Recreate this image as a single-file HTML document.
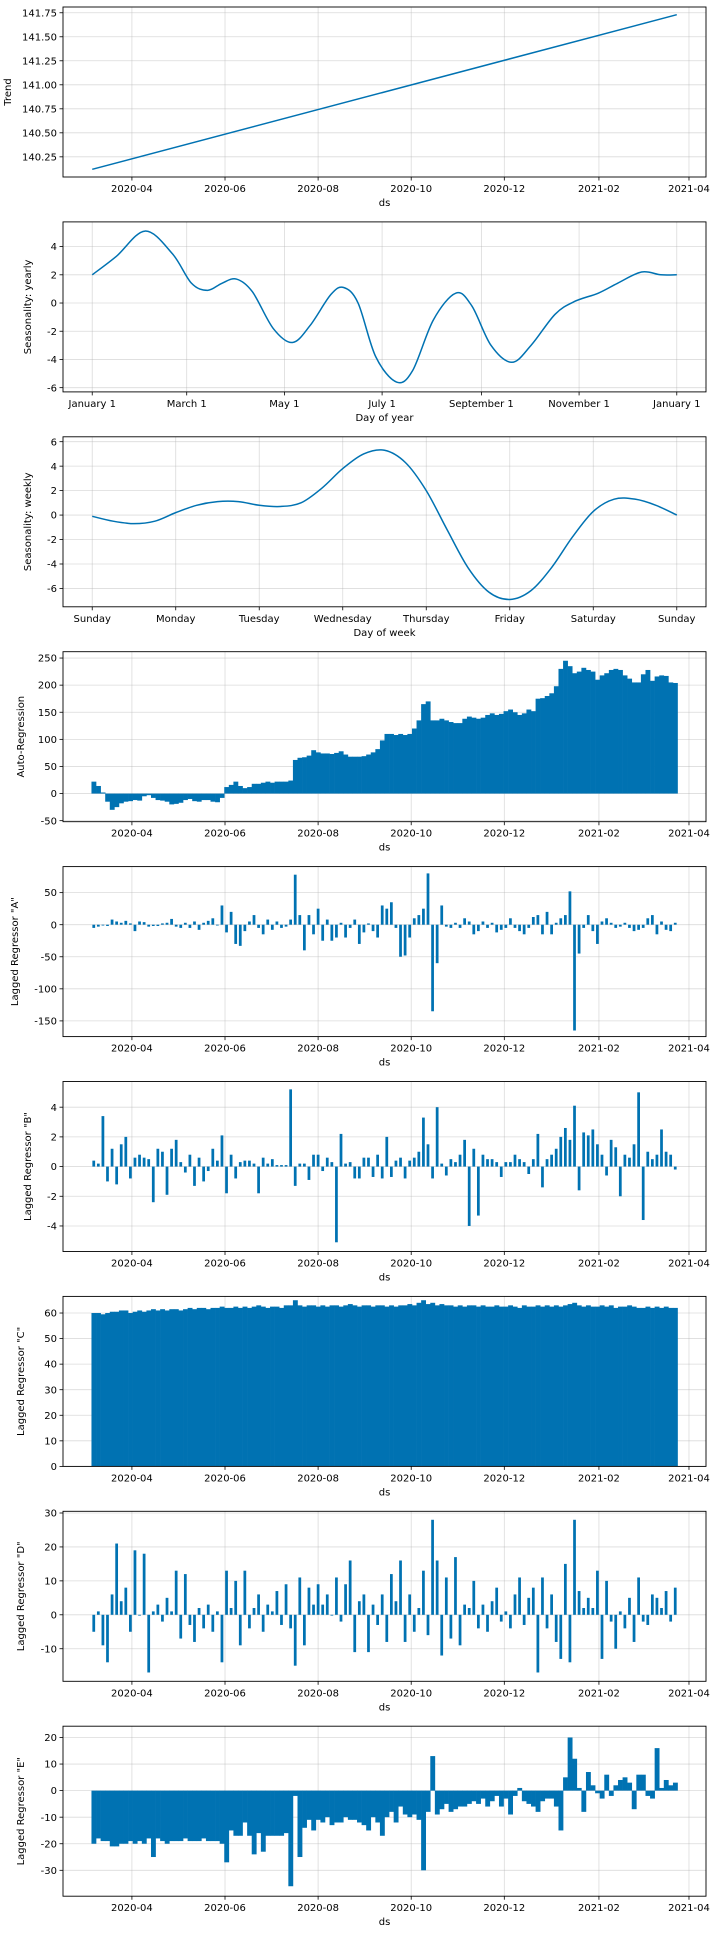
<!DOCTYPE html>
<html><head><meta charset="utf-8">
<style>
html,body{margin:0;padding:0;background:#fff;}
svg{display:block;font-family:"DejaVu Sans","Liberation Sans",sans-serif;}
</style></head>
<body>
<svg id="fig" width="716" height="1936" viewBox="0 0 716 1936" xmlns="http://www.w3.org/2000/svg"></svg>
<script>
// ---------- DATA ----------
const trendDays = [0, 383];
const trendValues = [140.12, 141.73];

const yearlyDays = [0,15,33,50,62,72,81,90,100,113,125,136,149,157,166,177,190,200,213,227,237,249,262,274,289,301,316,328,343,355,365];
const yearlyValues = [2.0,3.3,5.1,3.5,1.4,0.9,1.4,1.7,0.8,-1.8,-2.8,-1.6,0.6,1.1,0,-3.8,-5.6,-4.8,-1.2,0.7,-0.2,-3.0,-4.2,-3.0,-0.8,0.1,0.7,1.4,2.2,2.0,2.0];

const weeklyDays = [0,0.25,0.5,0.75,1,1.25,1.5,1.75,2,2.25,2.5,2.75,3,3.25,3.5,3.75,4,4.25,4.5,4.75,5,5.25,5.5,5.75,6,6.25,6.5,6.75,7];
const weeklyValues = [-0.1,-0.5,-0.7,-0.5,0.2,0.8,1.1,1.1,0.8,0.7,1.0,2.2,3.8,5.0,5.3,4.3,2.0,-1.2,-4.3,-6.3,-6.9,-6.2,-4.3,-1.8,0.3,1.3,1.3,0.8,0.0];

const arValues = [22,14,2,-15,-30,-25,-18,-15,-14,-12,
-13,-5,-3,-8,-12,-13,-15,-20,-19,-17,
-12,-10,-14,-15,-12,-12,-15,-16,-8,12,
16,22,14,10,12,18,18,20,22,20,
22,22,22,24,62,66,67,70,80,76,
74,74,73,75,78,72,68,68,68,69,
72,76,82,98,110,110,108,110,108,110,
120,135,165,170,135,135,138,135,132,130,
130,138,142,140,138,140,145,148,145,147,
152,155,150,145,148,155,152,175,176,180,
185,198,230,245,235,222,225,232,228,225,
210,218,222,228,230,228,218,212,205,205,
220,228,208,216,218,217,205,204];

const aValues = [-5,-3,0,-2,8,5,3,6,2,-10,
5,4,-3,-2,-2,2,3,9,-3,-5,
3,-5,5,-8,3,6,10,0,30,-12,
20,-30,-33,-10,5,15,-5,-15,8,-8,
5,-5,-3,8,78,15,-40,15,-15,25,
-25,8,-25,-20,3,-20,-5,8,-30,-12,
2,-10,-20,30,25,35,-5,-50,-48,-20,
10,15,25,80,-135,-60,30,-3,-5,3,
-5,10,5,-15,-10,5,-5,3,-12,-8,
-5,10,-5,-10,-15,-5,12,15,-15,20,
-15,3,10,15,52,-165,-45,-5,15,-10,
-30,5,10,3,-5,-3,3,-5,-10,-8,
-5,10,15,-15,5,-8,-10,3];

const bValues = [0.4,0.2,3.4,-1.0,1.2,-1.2,1.5,2.0,-0.8,0.6,
0.8,0.6,0.5,-2.4,1.2,1.0,-1.9,1.2,1.8,0.3,
-0.4,0.8,-1.3,0.6,-1.0,-0.3,1.2,0.4,2.1,-1.8,
0.8,-0.8,0.3,0.4,0.4,0.2,-1.8,0.6,0.2,0.5,
0.1,0.1,0.1,5.2,-1.3,0.2,0.2,-0.9,0.8,0.8,
-0.3,0.6,0.3,-5.1,2.2,0.2,0.3,-0.8,-0.8,0.6,
0.6,-0.7,0.8,-0.8,2.0,-0.7,0.4,0.6,-0.8,0.4,
0.6,1.0,3.3,1.5,-0.8,4.0,0.2,-0.6,0.5,0.3,
0.8,1.8,-4.0,1.2,-3.3,0.8,0.5,0.5,0.3,-0.7,
0.3,0.3,0.8,0.5,0.3,-0.5,0.5,2.2,-1.4,0.5,
0.8,1.2,2.0,2.6,1.8,4.1,-1.6,2.3,2.1,2.5,
1.5,0.8,-0.6,1.8,1.3,-2.0,0.8,0.6,1.5,5.0,
-3.6,1.0,0.5,0.8,2.5,1.0,0.8,-0.2];

const cValues = [60,60,59.5,60,60.5,60.5,61,61,60,60.5,
61,60.5,61,61.5,61,61.5,61,61.5,61.5,61,
61.5,62,61.5,62,62,61.5,62,62,62.5,62,
62,62.5,62,62.5,62,62.5,63,62.5,62,62.5,
62.5,62,63,63,65,63,62.5,63,63,62.5,
63,62.5,63,63,62.5,63,63.5,63,62.5,63,
63,62.5,63,63,62.5,63,62.5,63,63,63.5,
63,64,65,63.5,64,63,63.5,63,63,62.5,
63,62.5,63,63,62.5,63,62.5,62.5,63,62.5,
62.5,63,62.5,62,63,62.5,62.5,63,62.5,63,
62.5,63,62.5,63,63.5,64,63,62.5,63,62.5,
62.5,63,62.5,63,62,62.5,62.5,63,62.5,62,
62,62.5,62,62.5,62,62.5,62,62];

const dValues = [-5,1,-9,-14,6,21,4,8,-5,19,
0,18,-17,1,3,-2,5,1,13,-7,
12,-3,-8,2,-4,3,-5,1,-14,13,
2,10,-9,13,-4,2,6,-5,3,1,
7,-3,9,-4,-15,11,-9,8,3,9,
3,6,0,11,-2,9,16,-11,4,6,
-11,3,-3,6,-8,12,4,16,-8,6,
-5,2,13,-6,28,16,-12,11,-7,17,
-9,3,2,10,-4,3,-5,4,8,-2,
1,-4,6,11,-3,5,8,-17,11,-4,
6,-8,-13,15,-14,28,7,2,5,2,
13,-13,10,-2,-10,1,-4,5,-8,11,
-2,-3,6,5,2,7,-2,8];

const eValues = [-20,-18,-19,-19,-21,-21,-20,-20,-19,-20,
-19,-20,-18,-25,-18,-19,-20,-19,-19,-19,
-18,-19,-19,-19,-18,-19,-19,-19,-20,-27,
-15,-17,-17,-12,-17,-24,-16,-23,-17,-17,
-17,-17,-16,-36,-2,-25,-14,-11,-15,-11,
-12,-10,-13,-12,-12,-10,-11,-11,-12,-13,
-15,-10,-12,-17,-10,-8,-12,-6,-9,-10,
-9,-11,-30,-8,13,-9,-7,-5,-8,-7,
-6,-6,-5,-4,-5,-3,-6,-4,-2,-6,
-3,-9,-2,1,-4,-5,-6,-8,-4,-3,
-3,-6,-15,5,20,12,1,-8,7,2,
-1,-3,6,-2,2,4,5,3,-7,6,
6,-2,-3,16,1,4,2,3];

const dateTickDays = [26,87,148,209,270,332,391];
const dateTickLabels = ["2020-04","2020-06","2020-08","2020-10","2020-12","2021-02","2021-04"];
const yearTickDays = [0,59,120,181,243,304,365];
const yearTickLabels = ["January 1","March 1","May 1","July 1","September 1","November 1","January 1"];
const weekTickDays = [0,1,2,3,4,5,6,7];
const weekTickLabels = ["Sunday","Monday","Tuesday","Wednesday","Thursday","Friday","Saturday","Sunday"];

// ---------- DRAWING ----------
const NS = "http://www.w3.org/2000/svg";
const svg = document.getElementById("fig");
const L = 63, W = 643, H = 170, PITCH = 214.9, TOP0 = 7;
const BLUE = "#0072B2";
const TOTAL_DAYS = 384;

function mk(tag, attrs, parent) {
  const e = document.createElementNS(NS, tag);
  for (const k in attrs) e.setAttribute(k, attrs[k]);
  (parent || svg).appendChild(e);
  return e;
}
function fmt(v, dec) { return dec ? v.toFixed(dec) : String(v); }

function panel(idx, name, xlim, ylim, yticks, ydec, xticks, xlabels, xtitle, ytitle, ylabelX) {
  const top = TOP0 + idx * PITCH;
  const g = mk("g", {});
  
  
  const sx = d => L + (d - xlim[0]) / (xlim[1] - xlim[0]) * W;
  const sy = v => top + H - (v - ylim[0]) / (ylim[1] - ylim[0]) * H;
  const grid = mk("g", {stroke: "#b0b0b0", "stroke-opacity": "0.45", "stroke-width": "0.8"}, g);
  
  
  xticks.forEach((d, i) => {
    const x = sx(d);
    mk("line", {x1: x, x2: x, y1: top, y2: top + H}, grid);
    mk("line", {x1: x, x2: x, y1: top + H, y2: top + H + 3.5, stroke: "#000", "stroke-width": "0.8"}, g);
    const lb = mk("text", {x: x, y: top + H + 15, "text-anchor": "middle", "font-size": "10", fill: "#000"}, g);
    lb.textContent = xlabels[i];
    
    
  });
  yticks.forEach(v => {
    const y = sy(v);
    mk("line", {x1: L, x2: L + W, y1: y, y2: y}, grid);
    mk("line", {x1: L - 3.5, x2: L, y1: y, y2: y, stroke: "#000", "stroke-width": "0.8"}, g);
    const lb = mk("text", {x: L - 6, y: y + 3.6, "text-anchor": "end", "font-size": "10", fill: "#000"}, g);
    lb.textContent = fmt(v, ydec);
    
    
  });
  const xt = mk("text", {x: L + W / 2, y: top + H + 29, "text-anchor": "middle", "font-size": "10", fill: "#000"}, g);
  xt.textContent = xtitle;
  
  
  const cy = top + H / 2;
  const yt = mk("text", {x: ylabelX, y: cy, "text-anchor": "middle", "font-size": "10", fill: "#000", transform: "rotate(-90 " + ylabelX + " " + cy + ")"}, g);
  yt.textContent = ytitle;
  
  
  const plot = mk("g", {}, g);
  
  
  const frame = mk("rect", {x: L, y: top, width: W, height: H, fill: "none", stroke: "#000", "stroke-width": "0.9"}, g);
  
  
  return {sx, sy, plot};
}

function smoothPath(pts) {
  let d = "M" + pts[0][0] + "," + pts[0][1];
  for (let i = 0; i < pts.length - 1; i++) {
    const p0 = pts[Math.max(0, i - 1)], p1 = pts[i], p2 = pts[i + 1], p3 = pts[Math.min(pts.length - 1, i + 2)];
    const c1x = p1[0] + (p2[0] - p0[0]) / 6, c1y = p1[1] + (p2[1] - p0[1]) / 6;
    const c2x = p2[0] - (p3[0] - p1[0]) / 6, c2y = p2[1] - (p3[1] - p1[1]) / 6;
    d += " C" + c1x + "," + c1y + " " + c2x + "," + c2y + " " + p2[0] + "," + p2[1];
  }
  return d;
}

function linePanel(p, xs, ys, name) {
  const pts = xs.map((d, i) => [p.sx(d), p.sy(ys[i])]);
  const path = mk("path", {d: smoothPath(pts), fill: "none", stroke: BLUE, "stroke-width": "1.5"}, p.plot);
  
  
}

function barPanel(p, vals, name, frac) {
  const step = TOTAL_DAYS / vals.length;
  vals.forEach((v, k) => {
    const x0 = p.sx(k * step - 0.5), x1 = p.sx((k + 1) * step - 0.5);
    const bw = (x1 - x0) * frac;
    const xc = (x0 + x1) / 2;
    const y0 = p.sy(0), y1 = p.sy(v);
    const r = mk("rect", {x: frac >= 1 ? x0 : xc - bw / 2, y: Math.min(y0, y1), width: frac >= 1 ? bw + 0.3 : bw, height: Math.max(0.8, Math.abs(y1 - y0)), fill: BLUE}, p.plot);
    
    
  });
}

const DX = [-19.15, 402.15];
const range = (a, b, s) => { const r = []; for (let v = a; v <= b + 1e-9; v += s) r.push(Math.round(v * 100) / 100); return r; };

let p;
p = panel(0, "trend", DX, [140.04, 141.81], range(140.25, 141.75, 0.25), 2, dateTickDays, dateTickLabels, "ds", "Trend", 11);
linePanel(p, trendDays, trendValues, "trend");

p = panel(1, "seasonality-yearly", [-18.25, 383.25], [-6.3, 5.75], range(-6, 4, 2), 0, yearTickDays, yearTickLabels, "Day of year", "Seasonality: yearly", 31);
linePanel(p, yearlyDays, yearlyValues, "yearly");

p = panel(2, "seasonality-weekly", [-0.35, 7.35], [-7.5, 6.4], range(-6, 6, 2), 0, weekTickDays, weekTickLabels, "Day of week", "Seasonality: weekly", 31);
linePanel(p, weeklyDays, weeklyValues, "weekly");

p = panel(3, "auto-regression", DX, [-51.9, 261.7], range(-50, 250, 50), 0, dateTickDays, dateTickLabels, "ds", "Auto-Regression", 24);
barPanel(p, arValues, "ar", 1);

p = panel(4, "lagged-regressor-a", DX, [-174.5, 90.6], range(-150, 50, 50), 0, dateTickDays, dateTickLabels, "ds", 'Lagged Regressor "A"', 18);
barPanel(p, aValues, "a", 0.6);

p = panel(5, "lagged-regressor-b", DX, [-5.72, 5.73], range(-4, 4, 2), 0, dateTickDays, dateTickLabels, "ds", 'Lagged Regressor "B"', 31);
barPanel(p, bValues, "b", 0.6);

p = panel(6, "lagged-regressor-c", DX, [0, 66.5], range(0, 60, 10), 0, dateTickDays, dateTickLabels, "ds", 'Lagged Regressor "C"', 24);
barPanel(p, cValues, "c", 1);

p = panel(7, "lagged-regressor-d", DX, [-19.6, 30.5], range(-10, 30, 10), 0, dateTickDays, dateTickLabels, "ds", 'Lagged Regressor "D"', 24);
barPanel(p, dValues, "d", 0.6);

p = panel(8, "lagged-regressor-e", DX, [-39.75, 24.25], range(-30, 20, 10), 0, dateTickDays, dateTickLabels, "ds", 'Lagged Regressor "E"', 24);
barPanel(p, eValues, "e", 1);
</script>
</body></html>
